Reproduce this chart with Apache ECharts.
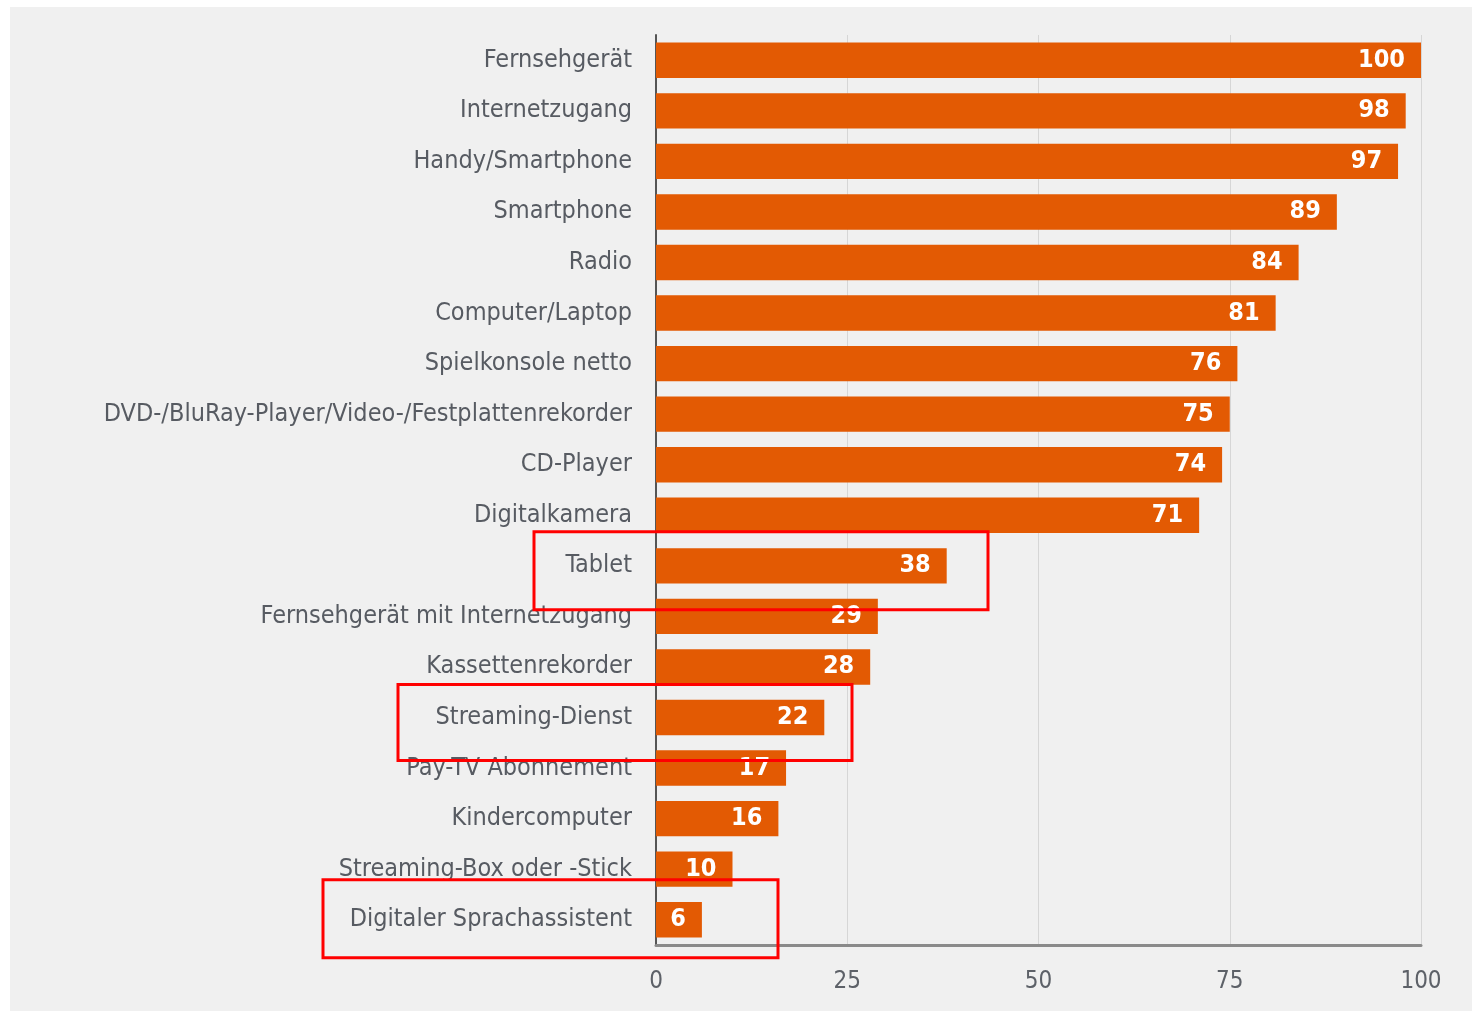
<!DOCTYPE html>
<html>
<head>
<meta charset="utf-8">
<script src="https://cdn.jsdelivr.net/npm/echarts@6/dist/echarts.min.js"></script>
<style>
  html, body { margin: 0; padding: 0; background: #ffffff; }
  #bg { position: absolute; left: 10px; top: 7px; width: 1462px; height: 1004px; background: #f0f0f0; }
  #main { position: absolute; left: 0; top: 0; width: 1483px; height: 1011px; }
</style>
</head>
<body>
<div id="bg"></div>
<div id="main"></div>
<script>
var categories = ['Fernsehgerät', 'Internetzugang', 'Handy/Smartphone', 'Smartphone', 'Radio',
  'Computer/Laptop', 'Spielkonsole netto', 'DVD-/BluRay-Player/Video-/Festplattenrekorder',
  'CD-Player', 'Digitalkamera', 'Tablet', 'Fernsehgerät mit Internetzugang', 'Kassettenrekorder',
  'Streaming-Dienst', 'Pay-TV Abonnement', 'Kindercomputer', 'Streaming-Box oder -Stick',
  'Digitaler Sprachassistent'];
var values = [100, 98, 97, 89, 84, 81, 76, 75, 74, 71, 38, 29, 28, 22, 17, 16, 10, 6];
var xTicks = [0, 25, 50, 75, 100];
// highlighted categories (red boxes)
var highlights = ['Tablet', 'Streaming-Dienst', 'Digitaler Sprachassistent'];

var font = '"DejaVu Sans Condensed", "Roboto", sans-serif';
var myChart = echarts.init(document.getElementById('main'));

var option = {
  backgroundColor: 'transparent',
  animation: false,
  grid: {
    left: 656,
    right: 62,
    top: 35,
    bottom: 66
  },
  xAxis: {
    type: 'value',
    min: 0,
    max: 100,
    interval: 25,
    axisLine: { show: true, lineStyle: { color: '#8a8a8a', width: 3 } },
    axisTick: { show: false },
    splitLine: { show: true, lineStyle: { color: '#d6d6d6', width: 1 } },
    axisLabel: {
      margin: 25,
      fontSize: 24,
      fontFamily: font,
      color: '#5d6168',
      formatter: function (v) { return xTicks.indexOf(v) >= 0 ? String(v) : ''; }
    }
  },
  yAxis: {
    type: 'category',
    inverse: true,
    data: categories,
    axisLine: { show: true, lineStyle: { color: '#555555', width: 2 } },
    axisTick: { show: false },
    axisLabel: {
      margin: 24,
      fontSize: 25,
      fontFamily: font,
      color: '#575b62'
    }
  },
  series: [{
    type: 'bar',
    data: values,
    barCategoryGap: '30%',
    itemStyle: { color: '#e35a03' },
    label: {
      show: true,
      position: 'insideRight',
      distance: 16,
      color: '#ffffff',
      fontSize: 25,
      fontWeight: 'bold',
      fontFamily: font
    }
  }]
};
myChart.setOption(option);

// red annotation boxes around the highlighted rows: [x0, x1, top offset, bottom offset]
var boxGeom = {
  'Tablet': [534, 988, -34, 44],
  'Streaming-Dienst': [398, 852, -33, 43],
  'Digitaler Sprachassistent': [323, 778, -40, 38]
};
var boxes = highlights.map(function (name) {
  var cy = myChart.convertToPixel({ yAxisIndex: 0 }, name);
  var g = boxGeom[name];
  return {
    type: 'rect',
    z: 100,
    shape: { x: g[0], y: cy + g[2], width: g[1] - g[0], height: g[3] - g[2] },
    style: { fill: 'none', stroke: '#ff0000', lineWidth: 3 }
  };
});
myChart.setOption({ graphic: boxes });
</script>
</body>
</html>
